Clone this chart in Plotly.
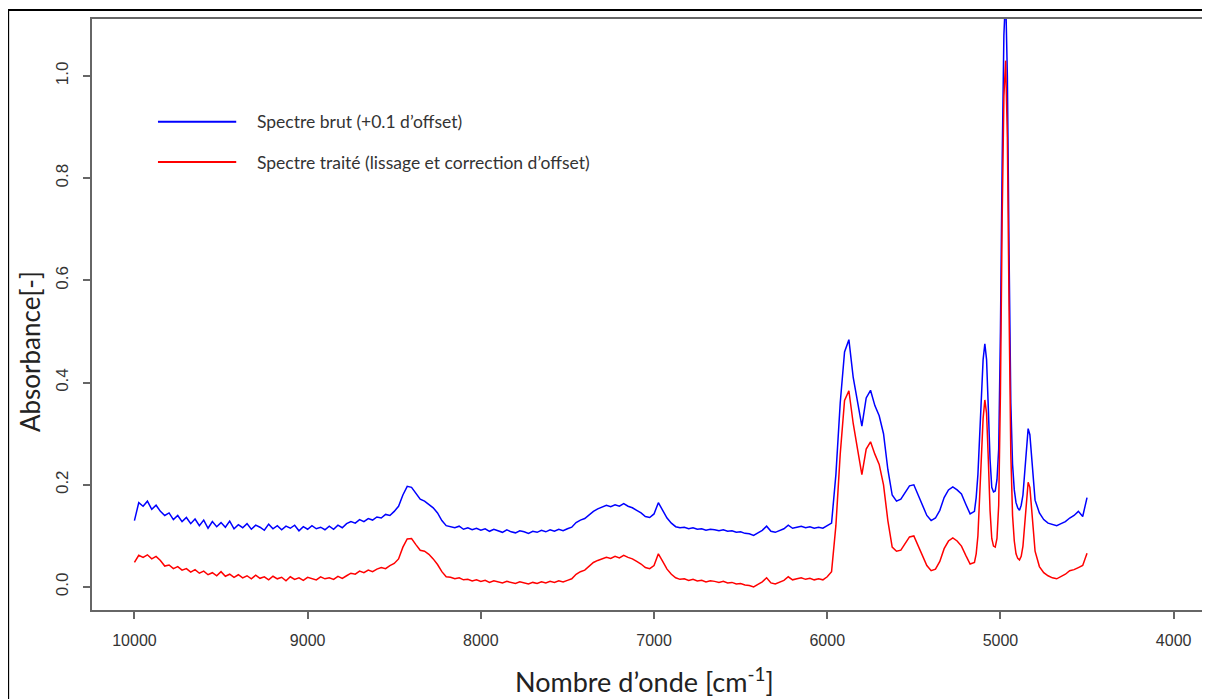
import plotly.graph_objects as go

# Wavenumber grid (cm-1): coarse steps, finer around the sharp peaks
wn_coarse = list(range(10000, 5150, -25))
wn_fine = list(range(5150, 4790, -10))
wn_tail = list(range(4775, 4475, -25))
wavenumber = wn_coarse + wn_fine + wn_tail

# Processed spectrum (smoothed, offset corrected)
treated_coarse = [
    0.048, 0.062, 0.058, 0.063, 0.055, 0.060, 0.052, 0.041,  # 10000
    0.043, 0.036, 0.040, 0.033, 0.036, 0.029, 0.034, 0.027,  # 9800
    0.031, 0.024, 0.028, 0.022, 0.030, 0.021, 0.025, 0.019,  # 9600
    0.024, 0.018, 0.022, 0.016, 0.023, 0.017, 0.020, 0.014,  # 9400
    0.021, 0.016, 0.019, 0.012, 0.020, 0.015, 0.018, 0.013,  # 9200
    0.019, 0.016, 0.014, 0.020, 0.016, 0.018, 0.015, 0.021,  # 9000
    0.017, 0.022, 0.027, 0.025, 0.031, 0.028, 0.033, 0.030,  # 8800
    0.035, 0.038, 0.036, 0.042, 0.046, 0.055, 0.078, 0.094,  # 8600
    0.095, 0.083, 0.072, 0.070, 0.064, 0.055, 0.044, 0.030,  # 8400
    0.020, 0.019, 0.016, 0.018, 0.014, 0.015, 0.012, 0.014,  # 8200
    0.011, 0.013, 0.009, 0.012, 0.010, 0.008, 0.011, 0.009,  # 8000
    0.007, 0.010, 0.008, 0.006, 0.009, 0.007, 0.010, 0.008,  # 7800
    0.011, 0.009, 0.012, 0.010, 0.013, 0.016, 0.025, 0.030,  # 7600
    0.033, 0.040, 0.048, 0.052, 0.055, 0.058, 0.056, 0.060,  # 7400
    0.057, 0.062, 0.058, 0.055, 0.050, 0.045, 0.038, 0.036,  # 7200
    0.042, 0.065, 0.050, 0.035, 0.025, 0.018, 0.015, 0.016,  # 7000
    0.013, 0.015, 0.012, 0.013, 0.010, 0.012, 0.011, 0.009,  # 6800
    0.011, 0.008, 0.009, 0.006, 0.007, 0.004, 0.003, 0.000,  # 6600
    0.005, 0.010, 0.018, 0.008, 0.006, 0.010, 0.013, 0.020,  # 6400
    0.014, 0.016, 0.018, 0.015, 0.017, 0.014, 0.016, 0.014,  # 6200
    0.020, 0.030, 0.120, 0.260, 0.365, 0.384, 0.320, 0.270,  # 6000
    0.220, 0.270, 0.284, 0.260, 0.240, 0.200, 0.130, 0.078,  # 5800
    0.070, 0.072, 0.085, 0.098, 0.100, 0.080, 0.060, 0.042,  # 5600
    0.032, 0.035, 0.050, 0.075, 0.090, 0.096, 0.090, 0.080,  # 5400
    0.062, 0.045,                                            # 5200
]
treated_fine = [
    0.048, 0.065, 0.100, 0.170, 0.260, 0.330, 0.366, 0.340, 0.250, 0.150,  # 5150
    0.095, 0.080, 0.078, 0.095, 0.160, 0.380, 0.720, 0.960, 1.030, 0.880,  # 5050
    0.540, 0.260, 0.140, 0.090, 0.065, 0.056, 0.053, 0.060, 0.080, 0.120,  # 4950
    0.170, 0.205, 0.195, 0.150, 0.100, 0.070,                              # 4850
]
treated_tail = [0.040, 0.028, 0.022, 0.018, 0.016, 0.020,
                0.025, 0.032, 0.034, 0.038, 0.042, 0.066]
treated = treated_coarse + treated_fine + treated_tail

# Raw spectrum, shifted by +0.1
raw_coarse = [
    0.130, 0.165, 0.158, 0.168, 0.152, 0.160, 0.148, 0.140,  # 10000
    0.145, 0.132, 0.140, 0.128, 0.136, 0.124, 0.133, 0.120,  # 9800
    0.131, 0.115, 0.128, 0.118, 0.126, 0.117, 0.129, 0.114,  # 9600
    0.122, 0.116, 0.124, 0.113, 0.121, 0.117, 0.111, 0.123,  # 9400
    0.114, 0.120, 0.112, 0.119, 0.115, 0.121, 0.110, 0.118,  # 9200
    0.113, 0.120, 0.114, 0.117, 0.112, 0.119, 0.113, 0.121,  # 9000
    0.116, 0.124, 0.128, 0.125, 0.132, 0.128, 0.134, 0.131,  # 8800
    0.137, 0.135, 0.142, 0.140, 0.148, 0.158, 0.180, 0.197,  # 8600
    0.195, 0.183, 0.172, 0.168, 0.162, 0.155, 0.145, 0.130,  # 8400
    0.120, 0.118, 0.116, 0.119, 0.113, 0.116, 0.112, 0.115,  # 8200
    0.111, 0.114, 0.109, 0.113, 0.110, 0.107, 0.112, 0.108,  # 8000
    0.106, 0.110, 0.108, 0.105, 0.109, 0.107, 0.111, 0.108,  # 7800
    0.112, 0.109, 0.113, 0.110, 0.114, 0.117, 0.126, 0.131,  # 7600
    0.134, 0.141, 0.148, 0.153, 0.156, 0.160, 0.157, 0.161,  # 7400
    0.158, 0.163, 0.158, 0.155, 0.150, 0.145, 0.138, 0.136,  # 7200
    0.143, 0.165, 0.150, 0.135, 0.125, 0.118, 0.116, 0.117,  # 7000
    0.114, 0.116, 0.113, 0.114, 0.111, 0.113, 0.112, 0.110,  # 6800
    0.112, 0.109, 0.110, 0.107, 0.108, 0.105, 0.104, 0.101,  # 6600
    0.106, 0.111, 0.119, 0.109, 0.107, 0.111, 0.114, 0.121,  # 6400
    0.115, 0.117, 0.119, 0.116, 0.118, 0.115, 0.117, 0.115,  # 6200
    0.120, 0.125, 0.220, 0.360, 0.460, 0.484, 0.410, 0.365,  # 6000
    0.315, 0.370, 0.385, 0.355, 0.335, 0.300, 0.230, 0.180,  # 5800
    0.168, 0.172, 0.185, 0.198, 0.200, 0.180, 0.160, 0.140,  # 5600
    0.130, 0.135, 0.150, 0.175, 0.190, 0.196, 0.190, 0.182,  # 5400
    0.162, 0.143,                                            # 5200
]
raw_fine = [
    0.148, 0.175, 0.220, 0.290, 0.380, 0.445, 0.476, 0.445, 0.350, 0.250,  # 5150
    0.195, 0.186, 0.188, 0.210, 0.270, 0.500, 0.830, 1.080, 1.160, 1.000,  # 5050
    0.650, 0.360, 0.240, 0.190, 0.165, 0.155, 0.150, 0.160, 0.180, 0.225,  # 4950
    0.275, 0.310, 0.298, 0.250, 0.200, 0.170,                              # 4850
]
raw_tail = [0.145, 0.132, 0.125, 0.122, 0.120, 0.124,
            0.128, 0.135, 0.140, 0.148, 0.138, 0.175]
raw = raw_coarse + raw_fine + raw_tail

assert len(raw) == len(wavenumber) == len(treated)

x_ticks = [10000, 9000, 8000, 7000, 6000, 5000, 4000]
y_ticks = [0.0, 0.2, 0.4, 0.6, 0.8, 1.0]

legend_labels = ["Spectre brut (+0.1 d\u2019offset)",
                 "Spectre trait\u00e9 (lissage et correction d\u2019offset)"]
line_colors = ["#0000FF", "#FF0000"]

fig = go.Figure()

fig.add_trace(go.Scatter(
    x=wavenumber, y=raw, mode='lines', name=legend_labels[0],
    line=dict(color=line_colors[0], width=1.5), showlegend=False
))
fig.add_trace(go.Scatter(
    x=wavenumber, y=treated, mode='lines', name=legend_labels[1],
    line=dict(color=line_colors[1], width=1.5), showlegend=False
))

# hand-drawn style legend (long keys, like the R legend)
legend_y = [0.826, 0.758]
for i, label in enumerate(legend_labels):
    fig.add_shape(type='line', xref='paper', yref='paper',
                  x0=0.059, x1=0.129, y0=legend_y[i], y1=legend_y[i],
                  line=dict(color=line_colors[i], width=2))
    fig.add_annotation(xref='paper', yref='paper', x=0.146, y=legend_y[i],
                       text=label, showarrow=False, xanchor='left', yanchor='middle',
                       font=dict(family='Lato', size=17.5, color='#333333'))

# outer frame around the whole figure
fig.add_shape(type='rect', xref='paper', yref='paper',
              x0=-0.075, x1=1.05, y0=-0.3, y1=1.0152,
              line=dict(color='black', width=2), layer='above')

# axis titles
fig.add_annotation(xref='paper', yref='paper', x=0.4946, y=-0.118,
                   text='Nombre d\u2019onde [cm<sup>-1</sup>]', showarrow=False,
                   xanchor='center', yanchor='middle',
                   font=dict(family='Lato', size=27, color='#222222'))
fig.add_annotation(xref='paper', yref='paper', x=-0.0555, y=0.438,
                   text='Absorbance[-]', showarrow=False, textangle=-90,
                   xanchor='center', yanchor='middle',
                   font=dict(family='Lato', size=26, color='#222222'))

# the page body adds an 8px offset, so the figure is 8px smaller than the window
fig.update_layout(
    width=1202,
    height=691,
    margin=dict(l=84, r=0, t=11, b=89),
    paper_bgcolor='white',
    plot_bgcolor='white',
    xaxis=dict(
        range=[10245, 3790],
        tickvals=x_ticks,
        ticktext=[str(v) for v in x_ticks],
        ticks='outside', ticklen=7, tickwidth=1.5, tickcolor='#666666',
        ticklabelstandoff=8,
        showline=True, linecolor='#666666', linewidth=1.5, mirror=True,
        showgrid=False, zeroline=False,
        tickfont=dict(family='Liberation Sans', size=16, color='#333333'),
    ),
    yaxis=dict(
        range=[-0.045, 1.1115],
        tickvals=y_ticks,
        ticktext=[f'{v:.1f}' for v in y_ticks],
        tickangle=-90,
        ticks='outside', ticklen=7, tickwidth=1.5, tickcolor='#666666',
        ticklabelstandoff=8,
        showline=True, linecolor='#666666', linewidth=1.5,
        showgrid=False, zeroline=False,
        tickfont=dict(family='Liberation Sans', size=17, color='#333333'),
    ),
)

fig.write_html("out.html")
